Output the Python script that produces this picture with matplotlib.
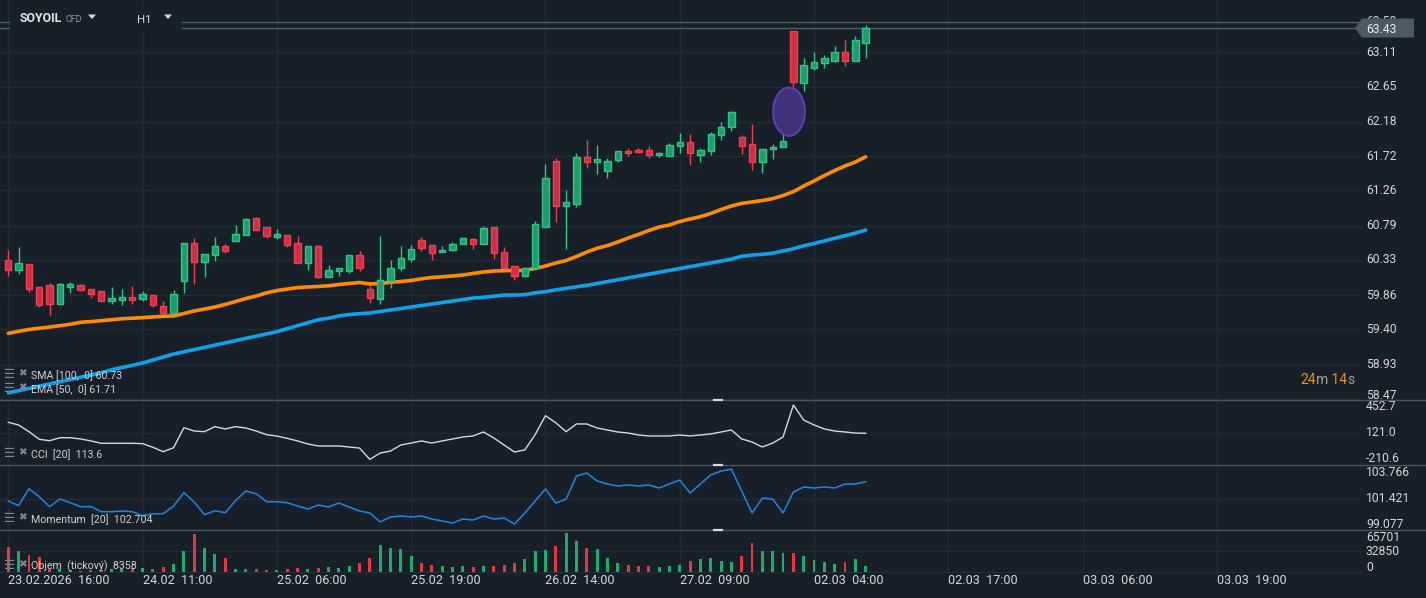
import matplotlib
matplotlib.use('Agg')
import matplotlib.pyplot as plt
from matplotlib.patches import Ellipse, Polygon, Rectangle
from matplotlib.lines import Line2D
import numpy as np

plt.rcParams['font.family'] = ['Roboto', 'DejaVu Sans']

# ---------------- data ----------------
opens = [60.33, 60.20, 60.27, 59.965, 59.99, 59.745, 59.97, 59.99, 59.935, 59.91,
         59.785, 59.80, 59.83, 59.81, 59.855, 59.72, 59.625, 60.045, 60.555, 60.30,
         60.39, 60.515, 60.59, 60.67, 60.89, 60.765, 60.64, 60.66, 60.555, 60.295,
         60.515, 60.105, 60.185, 60.185, 60.39, 59.935, 59.81, 60.05, 60.22, 60.34,
         60.595, 60.525, 60.43, 60.46, 60.54, 60.605, 60.54, 60.765, 60.43, 60.245,
         60.11, 60.22, 60.775, 61.655, 61.055, 61.075, 61.71, 61.635, 61.52, 61.665,
         61.785, 61.80, 61.80, 61.73, 61.725, 61.85, 61.905, 61.74, 61.795, 62.00,
         62.105, 61.97, 61.88, 61.635, 61.82, 61.845, 63.39, 62.705, 62.905, 62.96,
         63.00, 63.12, 63.00, 63.24]
highs = [60.46, 60.50, 60.28, 59.965, 60.02, 60.02, 60.035, 60.005, 59.935, 59.91,
         59.97, 59.94, 59.98, 59.915, 59.855, 59.775, 59.925, 60.555, 60.62, 60.405,
         60.635, 60.545, 60.80, 60.89, 60.90, 60.765, 60.745, 60.66, 60.645, 60.515,
         60.53, 60.26, 60.22, 60.39, 60.45, 59.995, 60.65, 60.33, 60.515, 60.53,
         60.635, 60.525, 60.515, 60.57, 60.625, 60.63, 60.785, 60.765, 60.505, 60.25,
         60.24, 60.85, 61.615, 61.69, 61.26, 61.765, 61.93, 61.875, 61.69, 61.79,
         61.825, 61.825, 61.855, 61.77, 61.895, 62.035, 62.015, 61.825, 62.045, 62.18,
         62.33, 62.00, 62.15, 61.81, 61.88, 62.03, 63.39, 63.035, 63.11, 63.07,
         63.19, 63.275, 63.33, 63.475]
lows = [60.11, 60.14, 59.905, 59.705, 59.595, 59.745, 59.89, 59.93, 59.825, 59.785,
        59.745, 59.725, 59.745, 59.785, 59.705, 59.625, 59.595, 59.89, 60.01, 60.105,
        60.32, 60.425, 60.59, 60.67, 60.735, 60.63, 60.61, 60.505, 60.295, 60.20,
        60.09, 60.105, 60.12, 60.16, 60.185, 59.76, 59.745, 59.96, 60.185, 60.305,
        60.45, 60.335, 60.43, 60.46, 60.54, 60.475, 60.54, 60.345, 60.22, 60.065,
        60.11, 60.22, 60.775, 60.84, 60.475, 61.04, 61.555, 61.48, 61.425, 61.635,
        61.715, 61.77, 61.70, 61.705, 61.725, 61.765, 61.605, 61.635, 61.74, 61.94,
        62.06, 61.755, 61.54, 61.50, 61.675, 61.845, 62.65, 62.595, 62.875, 62.905,
        62.985, 62.93, 63.00, 63.035]
closes = [60.20, 60.285, 59.945, 59.73, 59.745, 60.005, 60.005, 59.93, 59.88, 59.785,
          59.815, 59.83, 59.80, 59.87, 59.73, 59.625, 59.87, 60.555, 60.305, 60.405,
          60.515, 60.455, 60.675, 60.875, 60.735, 60.655, 60.675, 60.535, 60.295, 60.515,
          60.105, 60.19, 60.22, 60.39, 60.225, 59.825, 60.06, 60.22, 60.355, 60.475,
          60.495, 60.425, 60.46, 60.54, 60.62, 60.54, 60.755, 60.42, 60.22, 60.11,
          60.22, 60.805, 61.425, 61.05, 61.10, 61.71, 61.635, 61.68, 61.66, 61.785,
          61.76, 61.77, 61.73, 61.76, 61.865, 61.91, 61.76, 61.80, 62.01, 62.11,
          62.305, 61.86, 61.635, 61.81, 61.845, 61.925, 62.715, 62.935, 62.975, 63.03,
          63.12, 63.00, 63.27, 63.43]

ema50 = [59.348, 59.375, 59.40, 59.415, 59.432, 59.45, 59.469, 59.495, 59.505, 59.517,
         59.53, 59.543, 59.55, 59.557, 59.567, 59.576, 59.58, 59.613, 59.647, 59.673,
         59.70, 59.734, 59.774, 59.814, 59.847, 59.89, 59.92, 59.94, 59.96, 59.968,
         59.975, 59.984, 60.001, 60.015, 60.028, 60.008, 60.015, 60.031, 60.041, 60.055,
         60.078, 60.095, 60.104, 60.115, 60.128, 60.149, 60.169, 60.182, 60.186, 60.189,
         60.191, 60.216, 60.249, 60.289, 60.323, 60.376, 60.436, 60.486, 60.523, 60.57,
         60.624, 60.671, 60.724, 60.771, 60.798, 60.845, 60.878, 60.909, 60.952, 61.005,
         61.052, 61.088, 61.106, 61.126, 61.15, 61.193, 61.244, 61.32, 61.387, 61.46,
         61.527, 61.588, 61.641, 61.71]
sma100 = [58.55, 58.58, 58.61, 58.64, 58.67, 58.70, 58.73, 58.76, 58.79, 58.82,
          58.86, 58.89, 58.92, 58.95, 58.99, 59.03, 59.07, 59.10, 59.13, 59.16,
          59.19, 59.22, 59.25, 59.28, 59.31, 59.34, 59.37, 59.41, 59.45, 59.49,
          59.53, 59.55, 59.58, 59.60, 59.61, 59.62, 59.64, 59.66, 59.68, 59.70,
          59.72, 59.74, 59.76, 59.78, 59.80, 59.82, 59.83, 59.845, 59.86, 59.86,
          59.865, 59.89, 59.905, 59.93, 59.95, 59.97, 59.99, 60.015, 60.04, 60.065,
          60.09, 60.115, 60.14, 60.165, 60.19, 60.215, 60.24, 60.265, 60.29, 60.315,
          60.34, 60.38, 60.395, 60.405, 60.42, 60.45, 60.48, 60.52, 60.55, 60.585,
          60.62, 60.655, 60.69, 60.73]
cci20 = [252, 218, 134, 38, 20, 58, 58, 42, 17, -12,
         -12, -12, -12, -17, -63, -118, -68, 184, 142, 134,
         197, 168, 197, 180, 142, 96, 79, 50, 17, -21,
         -46, -46, -46, -59, -72, -215, -135, -110, -34, -9,
         17, -9, 17, 42, 67, 80, 130, 55, -34, -122,
         -96, 96, 335, 246, 134, 231, 231, 180, 155, 130,
         117, 92, 80, 80, 80, 92, 80, 92, 105, 130,
         155, 42, 4, -59, -9, 67, 470, 280, 218, 168,
         142, 130, 117, 113.6]
momentum20 = [101.215, 100.793, 102.318, 101.6, 100.704, 101.394, 101.062, 100.704, 100.704, 100.255,
              100.255, 100.318, 100.255, 99.897, 100.076, 100.076, 100.767, 101.959, 101.125, 99.986,
              100.345, 100.166, 101.242, 102.111, 101.869, 101.152, 101.152, 101.062, 100.767, 100.498,
              100.856, 100.677, 101.035, 100.677, 100.318, 100.139, 99.332, 99.78, 99.87, 99.78,
              99.87, 99.6, 99.42, 99.24, 99.6, 99.51, 99.87, 99.6, 99.69, 99.15,
              100.14, 101.215, 102.29, 101.035, 101.39, 103.456, 103.725, 103.008, 102.739, 102.56,
              102.65, 102.56, 102.65, 102.38, 102.739, 103.098, 101.93, 102.739, 103.546, 103.9,
              104.08, 102.11, 100.14, 101.48, 101.39, 100.14, 102.02, 102.47, 102.38, 102.47,
              102.38, 102.74, 102.74, 102.95]
volume = [39837, 33333, 26829, 23577, 4065, 4065, 2439, 1300, 2439, 2439,
          3577, 3577, 5203, 5691, 4065, 7317, 12195, 33333, 60975, 38211,
          28455, 21951, 4065, 4065, 4065, 2439, 2439, 4065, 5691, 4065,
          5691, 7317, 5691, 8943, 13821, 21951, 43089, 38211, 36585, 25203,
          13821, 10569, 8943, 7317, 8943, 7317, 8943, 8943, 10569, 13821,
          20325, 33333, 34959, 41463, 62601, 49593, 38211, 36585, 21951, 13821,
          10569, 8943, 8943, 7317, 8943, 10569, 17073, 20325, 21951, 17073,
          15447, 25203, 46341, 33333, 33333, 30081, 30081, 25203, 18699, 15447,
          12195, 15447, 20325, 8358]

price_ticks = [63.11, 62.65, 62.18, 61.72, 61.26, 60.79, 60.33, 59.86, 59.40, 58.93, 58.47]
hidden_top_tick = 63.58
cci_ticks = [452.7, 121.0, -210.6]
mom_ticks = [103.766, 101.421, 99.077]
vol_ticks = [65701, 32850, 0]
time_labels = ["23.02.2026  16:00", "24.02  11:00", "25.02  06:00", "25.02  19:00",
               "26.02  14:00", "27.02  09:00", "02.03  04:00", "02.03  17:00",
               "03.03  06:00", "03.03  19:00"]
label_step = 13
last_price = 63.43
ask_price = 63.515
sma_label = "SMA [100,  0] 60.73"
ema_label = "EMA [50,  0] 61.71"
cci_label = "CCI  [20]  113.6"
mom_label = "Momentum  [20]  102.704"
vol_label = "Objem  (tickový)  8358"
countdown = [("24", 'num'), ("m", 'unit'), (" 14", 'num'), ("s", 'unit')]

# ---------------- style ----------------
W, H = 1426, 598
BG = '#172029'
GRID = '#222c35'
SEP = '#4a5560'
TXT = '#d3d7db'
GREEN_F, GREEN_E = '#1f9e6c', '#2dc688'
RED_F, RED_E = '#d02f42', '#f23e4f'
VOL_G, VOL_R = '#1aae6d', '#e8363f'
AXFS = 8.7

fig = plt.figure(figsize=(W / 100, H / 100), dpi=100, facecolor=BG)

def fx(px):
    return px / W

def fy(py):
    return 1 - py / H

PR = 1361
ax = fig.add_axes([0, fy(400), PR / W, 400 / H])
ax_cci = fig.add_axes([0, fy(465), PR / W, 65 / H])
ax_mom = fig.add_axes([0, fy(530), PR / W, 65 / H])
ax_vol = fig.add_axes([0, fy(575), PR / W, 45 / H])

n = len(closes)
x = np.arange(n)
xlim = (-0.803, 130.95)
for a in (ax, ax_cci, ax_mom, ax_vol):
    a.set_facecolor(BG)
    for s in a.spines.values():
        s.set_visible(False)
    a.set_xticks([])
    a.set_yticks([])
    a.set_xlim(*xlim)
    for k in range(len(time_labels)):
        a.axvline(k * label_step, color=GRID, lw=1, zorder=0)

ax.set_ylim(58.455, 63.81)
ax_cci.set_ylim(-285.7, 532.7)
ax_mom.set_ylim(98.615, 104.443)
ax_vol.set_ylim(-5691, 67479)

# grid lines
for p in price_ticks:
    ax.axhline(p, color=GRID, lw=1, zorder=0)
ax_cci.axhline(cci_ticks[1], color=GRID, lw=1, zorder=0)
ax_mom.axhline(mom_ticks[1], color=GRID, lw=1, zorder=0)
for v in vol_ticks[1:]:
    ax_vol.axhline(v, color=GRID, lw=1, zorder=0)

# moving averages
ax.plot(x, ema50, color='#ff8c00', lw=2.6, solid_capstyle='round', zorder=2)
ax.plot(x, sma100, color='#0ea2e8', lw=2.6, solid_capstyle='round', zorder=2)

# candles
o = np.array(opens); c = np.array(closes)
hi = np.array(highs); lo = np.array(lows)
up = c >= o
wick_col = [GREEN_E if u else RED_E for u in up]
face = [GREEN_F if u else RED_F for u in up]
edge = [GREEN_E if u else RED_E for u in up]
ax.vlines(x, lo, hi, colors=wick_col, lw=1, zorder=3)
bh = np.maximum(np.abs(c - o), 0.015)
ax.bar(x, bh, bottom=np.minimum(o, c), width=0.62, color=face, edgecolor=edge,
       linewidth=1, zorder=4)

# price lines
ax.axhline(last_price, color='#4e5f6b', lw=1, zorder=1)
ax.axhline(ask_price, color='#4e5f6b', lw=1, zorder=1)

# highlight ellipse
ell_x, ell_y, ell_w, ell_h = 75.58, 62.315, 3.07, 0.647
ax.add_patch(Ellipse((ell_x, ell_y), ell_w, ell_h, facecolor='#41317a',
                     edgecolor='#5b40ad', lw=1.5, zorder=5))

# indicators
ax_cci.plot(x, cci20, color='#d6d9dc', lw=1, zorder=2)
ax_mom.plot(x, momentum20, color='#1f86e0', lw=1.1, zorder=2)
vcol = [VOL_G if u else VOL_R for u in up]
ax_vol.bar(x, volume, width=0.28, color=vcol, zorder=2)

# right-side labels
RX = 1366
for p in price_ticks:
    va = 'baseline' if p == price_ticks[-1] else 'center'
    ax.text(RX / PR, p, f"{p:.2f}", transform=ax.get_yaxis_transform(), ha='left',
            va=va, color=TXT, fontsize=AXFS, clip_on=False)
# top tick label, mostly hidden behind the price tag (only its top sliver shows)
clip_rect = Rectangle((fx(1355), fy(18.5)), fx(70), 18.5 / H, transform=fig.transFigure,
                      facecolor='none', edgecolor='none')
fig.add_artist(clip_rect)
t_hidden = fig.text(fx(RX), fy(21.5), f"{hidden_top_tick:.2f}", ha='left', va='center',
                    color=TXT, fontsize=AXFS, zorder=6)
t_hidden.set_clip_path(clip_rect)
tag = Polygon([(fx(1355), fy(28)), (fx(1362), fy(18.5)), (fx(1414), fy(18.5)),
               (fx(1414), fy(37.5)), (fx(1362), fy(37.5))], closed=True,
              transform=fig.transFigure, facecolor='#4a5a66', edgecolor='none', zorder=7)
fig.add_artist(tag)
fig.text(fx(RX), fy(29.5), f"{last_price:.2f}", ha='left', va='center', color='#eef0f2',
         fontsize=AXFS, zorder=8)

for v, py in zip(cci_ticks, [406.5, 432.7, 459.0]):
    fig.text(fx(RX), fy(py), f"{v:.1f}", ha='left', va='center', color=TXT, fontsize=AXFS)
for v, py in zip(mom_ticks, [472.5, 498.7, 524.8]):
    fig.text(fx(RX), fy(py), f"{v:.3f}", ha='left', va='center', color=TXT, fontsize=AXFS)
for v, py in zip(vol_ticks, [537.3, 551.5, 567.7]):
    fig.text(fx(RX), fy(py), f"{v}", ha='left', va='center', color=TXT, fontsize=AXFS)

# time labels
for k, lab in enumerate(time_labels):
    xpx = 8.3 + 10.33 * k * label_step
    fig.text(fx(xpx), fy(581), lab, ha='left', va='center', color=TXT, fontsize=9.1)

# separators
for py in (400.3, 465.3, 530.3):
    fig.add_artist(Line2D([0, 1], [fy(py), fy(py)], transform=fig.transFigure,
                          color=SEP, lw=1, zorder=6))
    fig.add_artist(Line2D([fx(714), fx(722)], [fy(py), fy(py)], transform=fig.transFigure,
                          color='#d5d9dc', lw=1.6, zorder=7))

# header box
fig.add_artist(Rectangle((fx(10), fy(32)), fx(172), 28 / H, transform=fig.transFigure,
                         facecolor=BG, edgecolor='none', zorder=6))
fig.text(fx(20), fy(19), "SOYOIL", ha='left', va='center', color='#e2e5e8',
         fontsize=8.8, fontweight='bold', zorder=8)
fig.text(fx(65), fy(19.5), "CFD", ha='left', va='center', color='#8d969e',
         fontsize=6.4, zorder=8)
fig.text(fx(137), fy(20), "H1", ha='left', va='center', color='#d6dadd',
         fontsize=8.2, zorder=8)
for tx in (92, 168):
    fig.add_artist(Polygon([(fx(tx - 4), fy(14.5)), (fx(tx + 4), fy(14.5)), (fx(tx), fy(19))],
                           closed=True, transform=fig.transFigure, facecolor='#d6dadd',
                           edgecolor='none', zorder=8))

# indicator legends
ICON = '#80898f'
for lab, py in ((sma_label, 375.7), (ema_label, 389.7), (cci_label, 454.7),
                (mom_label, 519.7), (vol_label, 566.7)):
    fig.text(fx(4), fy(py - 1.5), "☰", family='DejaVu Sans', ha='left', va='center',
             color=ICON, fontsize=9, zorder=8)
    fig.text(fx(18.5), fy(py - 2), "✖", family='DejaVu Sans', ha='left', va='center',
             color=ICON, fontsize=7.5, zorder=8)
    fig.text(fx(31), fy(py), lab, ha='left', va='center', color='#cfd3d7',
             fontsize=7.7, zorder=8)

# countdown (pieces placed one after another)
fig.canvas.draw()
renderer = fig.canvas.get_renderer()
xp = 1300
for s, kind in countdown:
    col = '#f0900f' if kind == 'num' else '#9aa2a9'
    t = fig.text(fx(xp), fy(380), s, ha='left', va='center', color=col, fontsize=10)
    bb = t.get_window_extent(renderer)
    xp += bb.width

fig.savefig('out.png', dpi=100, facecolor=BG)
